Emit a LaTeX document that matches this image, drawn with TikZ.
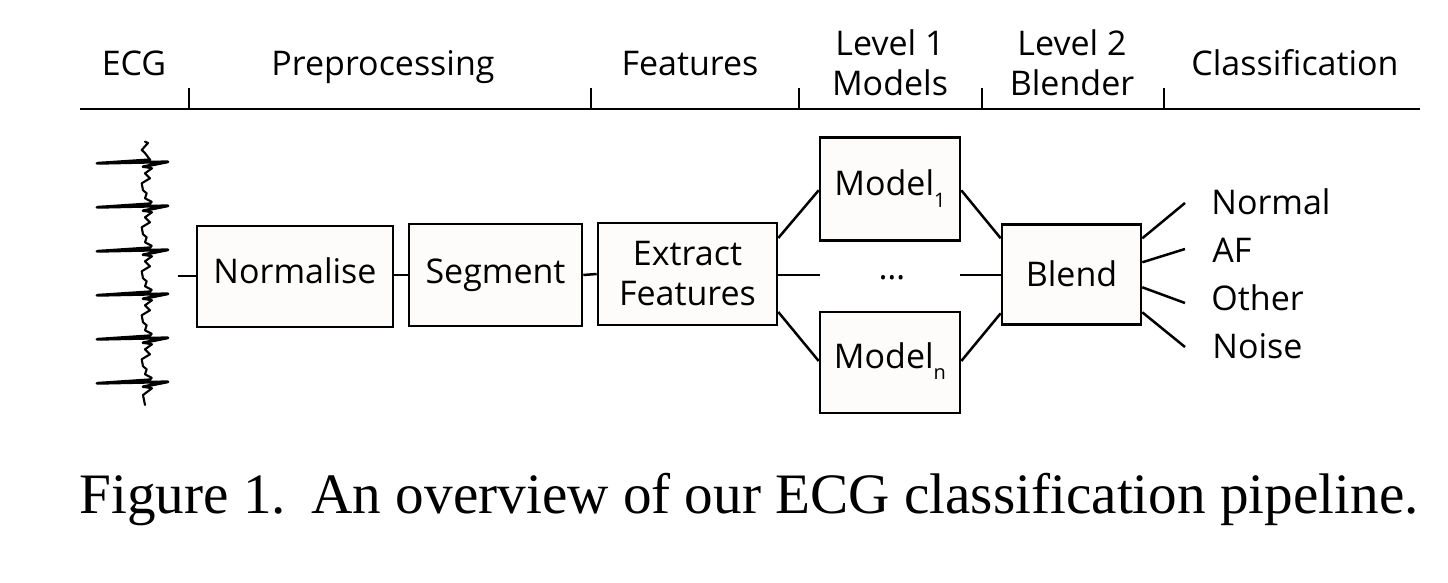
\documentclass[tikz,border=0pt]{standalone}
\usepackage{fontspec}
\setmainfont{Open Sans}
\newfontfamily\capfont{Liberation Serif}
\usetikzlibrary{calc}
\definecolor{boxfill}{RGB}{253,252,251}
\newcommand{\subtxt}[1]{\raisebox{-5.8pt}{\fontsize{10}{10}\selectfont #1}}
\begin{document}
\begin{tikzpicture}[x=0.5pt,y=-0.5pt,
  every node/.style={font=\fontsize{17}{20}\selectfont},
  box/.style 2 args={draw, line width=1.3pt, fill=boxfill, inner sep=0pt, align=center,
    minimum width=#1, minimum height=#2},
  bl/.style={text height=#1, text depth=0pt},
  conn/.style={line width=1.25pt},
  hdr/.style={anchor=base, inner sep=0pt},
  hdrtwo/.style={anchor=center, inner sep=0pt, align=center},
  cls/.style={anchor=base west, inner sep=0pt},
  ecg/.style={line width=1.05pt, line join=round, line cap=round},
  spike/.style={line width=1.45pt, line join=round, line cap=round}]
\useasboundingbox (0,0) rectangle (1448,583);

% header
\node[hdr] (hECG) at (134,76) {ECG};
\node[hdr] (hPre) at (383,76) {Preprocessing};
\node[hdr] (hFeat) at (690,76) {Features};
\node[hdrtwo] (hL1) at (890,62.5) {Level 1\\Models};
\node[hdrtwo] (hL2) at (1072,62.5) {Level 2\\Blender};
\node[hdr] (hCls) at (1295,76) {Classification};
\draw[line width=1.35pt] (80,109) -- (1420,109);
\foreach \t in {189,591,799,982,1164}
  \draw[line width=1.35pt] (\t,88) -- (\t,109);

% ECG trace
\draw[ecg] (145,141.7) -- (148,143) -- (141.7,150) -- (145,153) -- (150,159.8);
\foreach \s in {163.3,207.3,251.3,295.3,339.3}{
  \draw[spike] (150,\s-3.5) -- (97,\s) -- (168,\s-1.5) -- (143,\s+3.5);
  \draw[ecg] (143,\s+3.5) -- (152,\s+5) -- (145,\s+10) -- (150,\s+15) -- (141.7,\s+20)
    -- (143,\s+27) -- (146.7,\s+30) -- (145,\s+35) -- (151.7,\s+38.5) -- (150,\s+40.5);
}
\draw[spike] (150,379.8) -- (97,383.3) -- (168,381.8) -- (143,386.8);
\draw[ecg] (143,386.8) -- (152,388.3) -- (143,395) -- (145,405);
\coordinate (ecgout) at (178,276);

% boxes
\node[box={98pt}{50.5pt}, bl=7.5pt] (norm) at (295,276.5) {Normalise};
\node[box={86.5pt}{51pt}, bl=8.3pt] (seg) at (495.5,275) {Segment};
\node[box={89.5pt}{51pt}] (ext) at (687.5,274) {Extract\\Features};
\node[box={70pt}{51.5pt}, bl=6.9pt] (m1) at (890,188.8) {Model\subtxt{1}};
\node[box={70pt}{50.5pt}, bl=5.8pt] (mn) at (890,362.5) {Model\subtxt{n}};
\node[box={69.5pt}{50pt}, bl=11.7pt] (blend) at (1071.5,274.3) {Blend};
\node[anchor=base, inner sep=0pt] (dots) at (892,279) {…};
\coordinate (dl) at (820,275);
\coordinate (dr) at (960,275);

% connectors
\draw[conn] (ecgout) -- (ecgout -| norm.west);
\draw[conn] (norm.east |- seg.west) -- (seg.west);
\draw[conn] (seg.east) -- (ext.west);
\draw[conn] ($(ext.east)+(0,-36)$) -- ($(m1.west)+(0,1.5)$);
\draw[conn] ($(ext.east)+(0,38)$) -- ($(mn.west)+(0,-1.5)$);
\draw[conn] (ext.east |- dl) -- (dl);
\draw[conn] (dr) -- (blend.west |- dr);
\draw[conn] ($(m1.east)+(0,1.5)$) -- ($(blend.west)+(0,-36)$);
\draw[conn] ($(mn.east)+(0,-1.5)$) -- ($(blend.west)+(0,39)$);

% classes
\node[cls] (cN) at (1211,214) {Normal};
\node[cls] (cAF) at (1212,263) {AF};
\node[cls] (cO) at (1211,310) {Other};
\node[cls] (cNo) at (1212,358) {Noise};
\coordinate (eN) at (1185,203);
\coordinate (eAF) at (1185,249);
\coordinate (eO) at (1185,303);
\coordinate (eNo) at (1185,347);
\draw[conn] ($(blend.east)+(0,-36)$) -- (eN);
\draw[conn] ($(blend.east)+(0,-12)$) -- (eAF);
\draw[conn] ($(blend.east)+(0,13)$) -- (eO);
\draw[conn] ($(blend.east)+(0,38)$) -- (eNo);

% caption
\node[anchor=base west, inner sep=0pt, font=\capfont\fontsize{28.6}{34}\selectfont] (cap) at (79,513)
  {Figure 1.\hspace{0.45em}An overview of our ECG classification pipeline.};
\end{tikzpicture}
\end{document}
